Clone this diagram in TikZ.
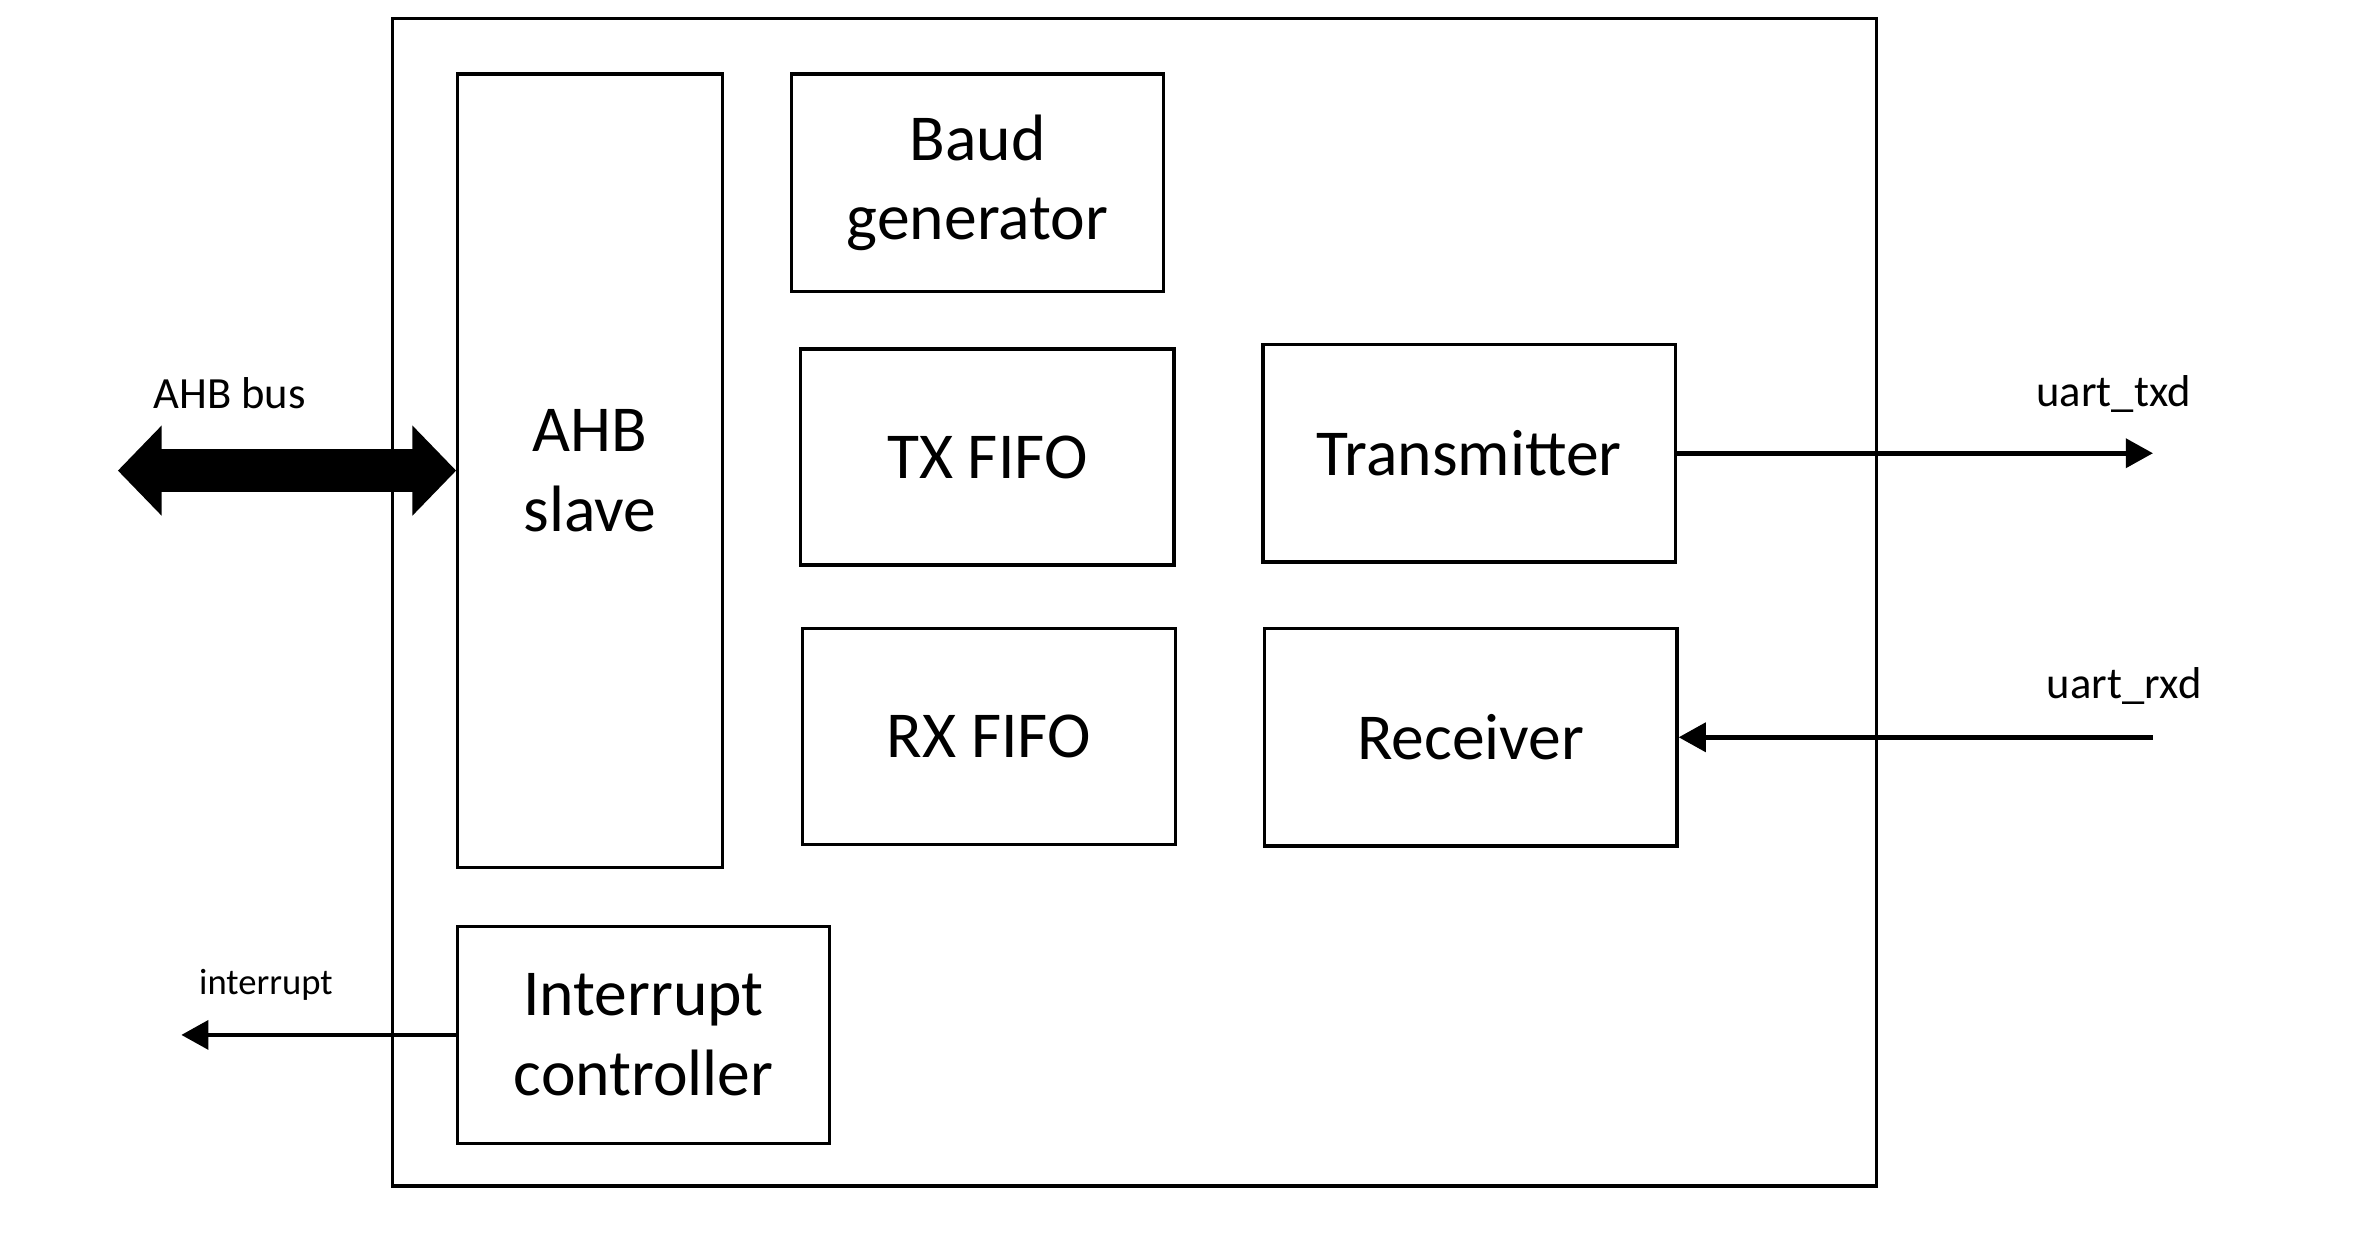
\documentclass[tikz,border=0pt]{standalone}
\usepackage{fontspec}
\setmainfont{Carlito}
\usetikzlibrary{arrows.meta}

\begin{document}
\begin{tikzpicture}[
	block/.style={draw, line width=1.2pt, align=center, inner sep=0pt, font=\fontsize{24.7}{30}\selectfont},
	sig/.style={line width=1.8pt, -{Triangle[length=0.36cm, width=0.38cm]}},
	lbl/.style={font=\fontsize{16.8}{20}\selectfont}]
	\useasboundingbox (0,-0.08) rectangle (31.36,16.44);

	\node[draw, line width=1.2pt, minimum width=19.64cm, minimum height=15.46cm](uart) at (15.02,8.47) {};

	\node[block, minimum width=3.5cm, minimum height=10.5cm](ahb) at (7.81,10.21) {AHB\\slave};
	\node[block, minimum width=4.92cm, minimum height=2.88cm](baud) at (12.94,14.02) {Baud\\generator};
	\node[block, minimum width=4.94cm, minimum height=2.86cm](txf) at (13.07,10.39) {TX FIFO};
	\node[block, minimum width=4.94cm, minimum height=2.86cm](rxf) at (13.09,6.69) {RX FIFO};
	\node[block, minimum width=5.46cm, minimum height=2.88cm](tx) at (19.45,10.44) {Transmitter};
	\node[block, minimum width=5.46cm, minimum height=2.88cm](rx) at (19.47,6.68) {Receiver};
	\node[block, minimum width=4.92cm, minimum height=2.88cm](irq) at (8.52,2.74) {Interrupt\\controller};

	\coordinate(bus) at (1.56,10.21);
	\coordinate(txd) at (28.5,10.44);
	\coordinate(rxd) at (28.5,6.68);
	\coordinate(int) at (2.4,2.74);

	\draw[line width=0.56cm, {Triangle[length=0.58cm, width=1.16cm]}-{Triangle[length=0.58cm, width=1.16cm]}](bus) -- (ahb.west);
	\draw[sig](tx.east) -- (txd);
	\draw[sig](rxd) -- (rx.east);
	\draw[sig](irq.west) -- (int);

	\node[lbl](busl) at (3.04,11.24) {AHB bus};
	\node[lbl](txdl) at (27.98,11.22) {uart\_txd};
	\node[lbl](rxdl) at (28.12,7.36) {uart\_rxd};
	\node[font=\fontsize{13.8}{16}\selectfont](intl) at (3.52,3.4) {interrupt};
\end{tikzpicture}
\end{document}
